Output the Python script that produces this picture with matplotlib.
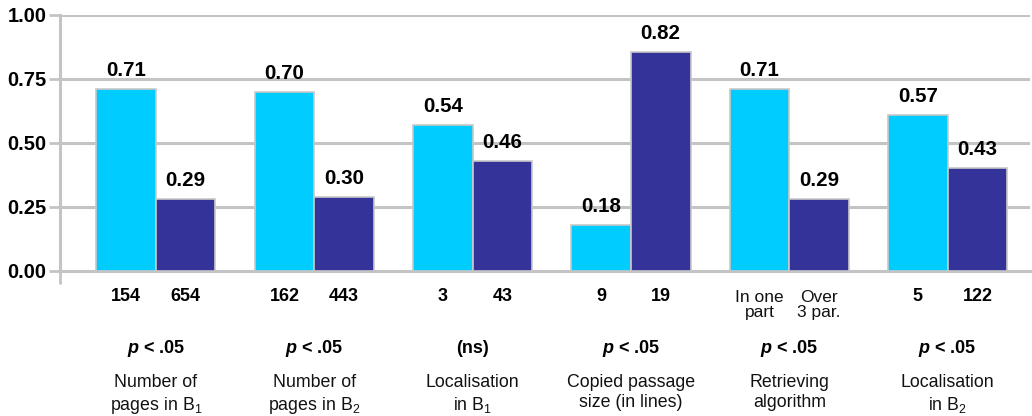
import matplotlib
matplotlib.use("Agg")
import matplotlib.pyplot as plt
import numpy as np

plt.rcParams['font.family'] = ['Liberation Sans', 'DejaVu Sans']
plt.rcParams['mathtext.fontset'] = 'custom'
plt.rcParams['mathtext.rm'] = 'Liberation Sans'
plt.rcParams['mathtext.it'] = 'Liberation Sans:bold:italic'
plt.rcParams['mathtext.bf'] = 'Liberation Sans:bold'

# ---- data ----
groups = ["Number of\npages in $\\mathregular{B_1}$",
          "Number of\npages in $\\mathregular{B_2}$",
          "Localisation\nin $\\mathregular{B_1}$",
          "Copied passage\nsize (in lines)",
          "Retrieving\nalgorithm",
          "Localisation\nin $\\mathregular{B_2}$"]
light_heights = [0.71, 0.70, 0.57, 0.18, 0.71, 0.61]
dark_heights = [0.28, 0.29, 0.43, 0.855, 0.28, 0.40]
light_labels = ["0.71", "0.70", "0.54", "0.18", "0.71", "0.57"]
dark_labels = ["0.29", "0.30", "0.46", "0.82", "0.29", "0.43"]
light_cats = ["154", "162", "3", "9", "In one\npart", "5"]
dark_cats = ["654", "443", "43", "19", "Over\n3 par.", "122"]
pvals = ["$p$ < .05", "$p$ < .05", "(ns)", "$p$ < .05", "$p$ < .05", "$p$ < .05"]
yticks = [0.0, 0.25, 0.5, 0.75, 1.0]

LIGHT = "#00CCFF"
DARK = "#333399"
GRID = "#C4C4C4"

fig = plt.figure(figsize=(10.32, 4.16), dpi=100)
ax = fig.add_axes([60.3 / 1032, 1 - 270.7 / 416, (1030 - 60.3) / 1032, (270.7 - 15) / 416])

x = np.arange(len(groups))
w = 0.376
b1 = ax.bar(x - w / 2, light_heights, width=w, color=LIGHT, edgecolor="#C8C8C8", linewidth=1.2, zorder=3)
b2 = ax.bar(x + w / 2, dark_heights, width=w, color=DARK, edgecolor="#C8C8C8", linewidth=1.2, zorder=3)

ax.set_xlim(-0.604, 5.52)
ax.set_ylim(0, 1.0)
ax.set_yticks(yticks)
ax.set_yticklabels([f"{v:.2f}" for v in yticks], fontsize=14.5, fontweight="bold")
ax.yaxis.grid(True, color=GRID, linewidth=2.2, zorder=0)
ax.set_axisbelow(True)
ax.tick_params(axis="y", length=8, width=2, color=GRID, pad=2)
ax.set_xticks([-0.604])
ax.set_xticklabels([""])
ax.tick_params(axis="x", length=9, width=2, color=GRID)
for s in ["top", "right"]:
    ax.spines[s].set_visible(False)
ax.spines["left"].set_color(GRID)
ax.spines["left"].set_linewidth(2.2)
ax.spines["bottom"].set_color(GRID)
ax.spines["bottom"].set_linewidth(2.2)

# value labels
for rects, labs in ((b1, light_labels), (b2, dark_labels)):
    for r, lab in zip(rects, labs):
        ax.annotate(lab, xy=(r.get_x() + r.get_width() / 2, r.get_height()),
                    xytext=(0, 9), textcoords="offset pixels",
                    ha="center", va="bottom", fontsize=14.8, fontweight="bold")

# category labels under bars
for i in range(len(groups)):
    for xi, lab in ((x[i] - w / 2, light_cats[i]), (x[i] + w / 2, dark_cats[i])):
        if "\n" in lab:
            ax.annotate(lab, xy=(xi, 0), xycoords=("data", "axes fraction"),
                        xytext=(0, -19), textcoords="offset pixels",
                        ha="center", va="top", fontsize=12.5, linespacing=1.0, color="#111111")
        else:
            ax.annotate(lab, xy=(xi, 0), xycoords=("data", "axes fraction"),
                        xytext=(0, -25.5), textcoords="offset pixels",
                        ha="center", va="center", fontsize=13, fontweight="bold")
    ax.annotate(pvals[i], xy=(x[i], 0), xycoords=("data", "axes fraction"),
                xytext=(0, -77.5), textcoords="offset pixels",
                ha="center", va="center", fontsize=13, fontweight="bold")
    ax.annotate(groups[i], xy=(x[i], 0), xycoords=("data", "axes fraction"),
                xytext=(0, -103.5), textcoords="offset pixels",
                ha="center", va="top", fontsize=12.8, linespacing=1.25, color="#111111")

fig.savefig("out.png", dpi=100)
